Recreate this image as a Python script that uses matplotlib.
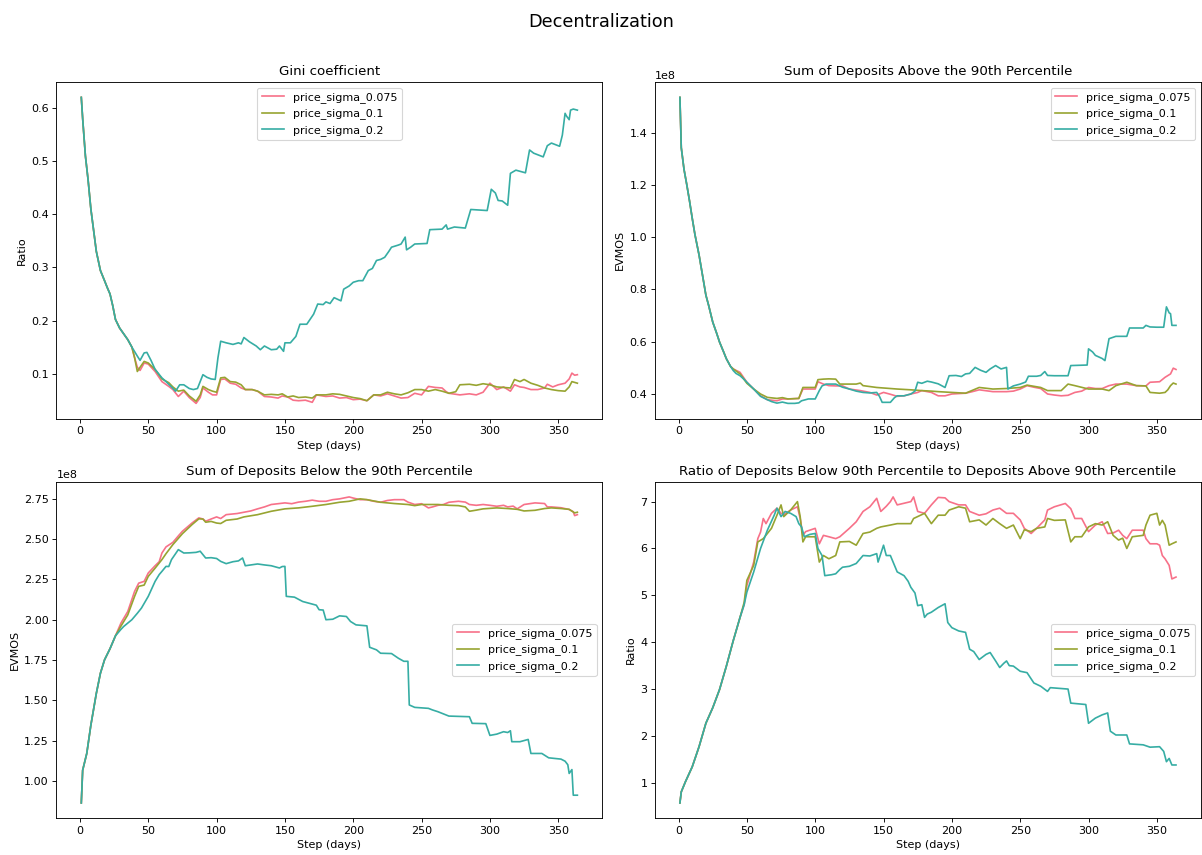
import numpy as np
from matplotlib import pyplot as plt

labels = ["price_sigma_0.075", "price_sigma_0.1", "price_sigma_0.2"]
colors = ["#f77189", "#97a431", "#36ada4"]

# Gini coefficient, (day, value)
gini_start = [(1, 0.62), (2, 0.58), (4, 0.51), (6, 0.464), (8, 0.41), (10, 0.37), (12, 0.33),
              (15, 0.294), (18, 0.275), (20, 0.262), (22, 0.25), (24, 0.228), (26, 0.202),
              (29, 0.186), (32, 0.175), (35, 0.164), (38, 0.15)]
gini_075 = [(40, 0.13), (42, 0.112), (44, 0.106), (47, 0.12), (50, 0.118), (55, 0.104), (60, 0.085),
            (65, 0.076), (68, 0.07), (72, 0.057), (76, 0.067), (80, 0.055), (85, 0.044), (88, 0.055),
            (90, 0.073), (94, 0.065), (97, 0.06), (100, 0.06), (103, 0.089), (106, 0.09), (110, 0.082),
            (114, 0.08), (118, 0.073), (121, 0.07), (126, 0.07), (130, 0.067), (135, 0.057), (140, 0.056),
            (145, 0.054), (148, 0.058), (152, 0.056), (156, 0.05), (160, 0.049), (165, 0.05), (170, 0.046),
            (173, 0.06), (180, 0.057), (185, 0.058), (190, 0.054), (195, 0.055), (200, 0.051), (205, 0.052),
            (210, 0.049), (215, 0.06), (220, 0.058), (225, 0.062), (230, 0.058), (235, 0.054), (240, 0.055),
            (245, 0.063), (250, 0.06), (255, 0.076), (260, 0.074), (265, 0.073), (268, 0.066), (270, 0.063),
            (278, 0.06), (285, 0.062), (290, 0.06), (295, 0.065), (300, 0.082), (303, 0.075), (305, 0.07),
            (310, 0.075), (315, 0.067), (318, 0.079), (322, 0.075), (325, 0.074), (330, 0.07), (335, 0.07),
            (340, 0.073), (342, 0.08), (346, 0.075), (350, 0.079), (355, 0.082), (358, 0.09), (360, 0.101),
            (362, 0.097), (364, 0.098)]
gini_01 = [(40, 0.13), (42, 0.104), (44, 0.112), (47, 0.123), (50, 0.12), (55, 0.108), (60, 0.09),
           (65, 0.083), (68, 0.075), (72, 0.067), (76, 0.069), (80, 0.058), (85, 0.048), (88, 0.06),
           (90, 0.076), (94, 0.07), (97, 0.067), (100, 0.065), (103, 0.092), (106, 0.093), (110, 0.085),
           (114, 0.084), (118, 0.079), (121, 0.07), (126, 0.07), (130, 0.067), (135, 0.06), (140, 0.061),
           (145, 0.06), (148, 0.062), (152, 0.056), (156, 0.058), (160, 0.055), (165, 0.056), (170, 0.054),
           (173, 0.06), (180, 0.06), (185, 0.062), (190, 0.061), (195, 0.058), (200, 0.055), (205, 0.053),
           (210, 0.049), (215, 0.06), (220, 0.06), (225, 0.065), (230, 0.062), (235, 0.06), (240, 0.064),
           (245, 0.07), (250, 0.07), (255, 0.067), (260, 0.07), (265, 0.067), (270, 0.063), (275, 0.066),
           (278, 0.079), (285, 0.08), (290, 0.078), (295, 0.081), (300, 0.079), (305, 0.075), (310, 0.074),
           (315, 0.073), (318, 0.089), (322, 0.085), (325, 0.089), (330, 0.082), (335, 0.078), (340, 0.073),
           (345, 0.07), (350, 0.068), (355, 0.067), (358, 0.075), (360, 0.085), (364, 0.082)]
gini_02 = [(42, 0.133), (44, 0.125), (47, 0.139), (49, 0.14), (52, 0.125), (55, 0.108), (60, 0.092),
           (63, 0.085), (67, 0.075), (70, 0.067), (73, 0.079), (76, 0.079), (80, 0.072), (83, 0.07),
           (86, 0.072), (88, 0.085), (90, 0.098), (93, 0.093), (96, 0.09), (99, 0.089), (101, 0.13),
           (103, 0.161), (107, 0.158), (112, 0.155), (116, 0.158), (118, 0.156), (120, 0.168), (124, 0.16),
           (129, 0.152), (132, 0.145), (135, 0.152), (140, 0.145), (144, 0.146), (146, 0.152), (149, 0.142),
           (150, 0.158), (154, 0.158), (158, 0.17), (161, 0.193), (166, 0.193), (171, 0.212), (174, 0.231),
           (178, 0.23), (180, 0.235), (183, 0.232), (186, 0.243), (191, 0.237), (193, 0.259), (197, 0.265),
           (200, 0.272), (204, 0.275), (207, 0.275), (211, 0.294), (214, 0.298), (217, 0.313), (220, 0.315),
           (223, 0.319), (226, 0.33), (228, 0.338), (233, 0.342), (235, 0.344), (238, 0.357), (239, 0.333),
           (242, 0.338), (245, 0.344), (254, 0.345), (256, 0.371), (265, 0.372), (268, 0.38), (269, 0.372),
           (274, 0.376), (282, 0.374), (286, 0.409), (298, 0.407), (301, 0.447), (304, 0.44), (306, 0.426),
           (309, 0.425), (313, 0.417), (315, 0.477), (319, 0.483), (326, 0.478), (329, 0.521), (332, 0.515),
           (339, 0.508), (342, 0.529), (345, 0.534), (351, 0.528), (353, 0.549), (355, 0.59), (356, 0.585),
           (358, 0.578), (359, 0.596), (361, 0.598), (364, 0.596)]

# Sum of deposits above the 90th percentile, in units of 1e8 EVMOS
above_start = [(1, 1.536), (2, 1.343), (4, 1.26), (6, 1.202), (8, 1.14), (10, 1.073), (12, 1.01),
               (15, 0.932), (18, 0.84), (20, 0.778), (22, 0.739), (25, 0.675), (28, 0.63), (30, 0.598),
               (33, 0.56), (35, 0.534), (38, 0.505)]
above_075 = [(40, 0.495), (45, 0.482), (50, 0.444), (55, 0.418), (60, 0.392), (65, 0.377), (72, 0.373),
             (76, 0.38), (80, 0.38), (88, 0.382), (91, 0.418), (100, 0.418), (102, 0.446), (106, 0.437),
             (110, 0.431), (115, 0.43), (120, 0.43), (125, 0.418), (133, 0.412), (140, 0.405), (145, 0.395),
             (150, 0.405), (155, 0.398), (160, 0.39), (165, 0.392), (170, 0.399), (175, 0.405), (178, 0.412),
             (185, 0.405), (190, 0.392), (195, 0.392), (200, 0.399), (210, 0.402), (215, 0.408), (220, 0.415),
             (230, 0.408), (240, 0.408), (245, 0.41), (250, 0.418), (255, 0.431), (260, 0.425), (265, 0.42),
             (270, 0.399), (275, 0.395), (280, 0.392), (285, 0.394), (290, 0.405), (295, 0.41), (300, 0.424),
             (305, 0.42), (310, 0.42), (315, 0.431), (320, 0.437), (328, 0.437), (335, 0.431), (342, 0.43),
             (345, 0.444), (352, 0.446), (356, 0.463), (360, 0.476), (362, 0.498), (364, 0.493)]
above_01 = [(40, 0.495), (45, 0.476), (50, 0.44), (55, 0.418), (60, 0.399), (65, 0.386), (72, 0.382),
            (76, 0.385), (80, 0.38), (88, 0.382), (91, 0.424), (100, 0.424), (102, 0.454), (106, 0.456),
            (110, 0.457), (115, 0.456), (118, 0.437), (125, 0.437), (130, 0.437), (133, 0.441), (135, 0.431),
            (145, 0.424), (150, 0.422), (160, 0.418), (170, 0.415), (178, 0.412), (185, 0.41), (190, 0.408),
            (200, 0.405), (210, 0.402), (220, 0.424), (230, 0.418), (240, 0.42), (250, 0.424), (255, 0.433),
            (265, 0.424), (270, 0.412), (280, 0.412), (285, 0.437), (290, 0.431), (300, 0.418), (310, 0.418),
            (315, 0.412), (320, 0.431), (328, 0.444), (335, 0.431), (342, 0.43), (345, 0.405), (352, 0.402),
            (356, 0.405), (358, 0.415), (360, 0.431), (362, 0.441), (364, 0.437)]
above_02 = [(40, 0.489), (42, 0.478), (45, 0.469), (48, 0.455), (50, 0.444), (55, 0.418), (60, 0.39),
            (65, 0.377), (68, 0.37), (72, 0.364), (76, 0.368), (80, 0.363), (85, 0.363), (88, 0.365),
            (90, 0.373), (95, 0.38), (100, 0.38), (103, 0.412), (105, 0.43), (108, 0.437), (115, 0.437),
            (120, 0.425), (125, 0.418), (130, 0.41), (135, 0.405), (140, 0.403), (145, 0.405), (147, 0.39),
            (149, 0.367), (155, 0.367), (158, 0.385), (160, 0.392), (165, 0.392), (170, 0.399), (173, 0.41),
            (175, 0.444), (178, 0.44), (182, 0.448), (185, 0.445), (190, 0.438), (195, 0.424), (198, 0.469),
            (203, 0.47), (207, 0.466), (210, 0.476), (213, 0.478), (217, 0.501), (221, 0.49), (225, 0.482),
            (228, 0.495), (232, 0.508), (236, 0.495), (240, 0.501), (241, 0.418), (245, 0.43), (250, 0.437),
            (254, 0.445), (256, 0.467), (262, 0.467), (265, 0.47), (268, 0.485), (270, 0.47), (275, 0.469),
            (285, 0.469), (287, 0.508), (299, 0.51), (300, 0.572), (303, 0.56), (305, 0.547), (310, 0.535),
            (312, 0.527), (315, 0.611), (320, 0.62), (328, 0.62), (330, 0.652), (340, 0.652), (342, 0.662),
            (345, 0.656), (350, 0.655), (355, 0.655), (357, 0.733), (359, 0.71), (360, 0.707), (361, 0.662),
            (364, 0.662)]

# Sum of deposits below the 90th percentile, in units of 1e8 EVMOS
below_start = [(1, 0.863), (2, 1.066), (5, 1.17), (8, 1.346), (12, 1.543), (15, 1.668), (18, 1.751),
               (22, 1.82), (26, 1.9)]
below_075 = [(30, 1.979), (35, 2.051), (40, 2.176), (43, 2.227), (47, 2.238), (50, 2.29), (55, 2.335),
             (58, 2.36), (60, 2.414), (63, 2.452), (68, 2.48), (72, 2.52), (75, 2.549), (82, 2.6),
             (87, 2.632), (90, 2.625), (92, 2.611), (96, 2.625), (100, 2.638), (103, 2.628), (107, 2.652),
             (115, 2.659), (120, 2.667), (125, 2.675), (130, 2.688), (135, 2.7), (140, 2.715), (145, 2.72),
             (150, 2.725), (155, 2.72), (160, 2.73), (165, 2.735), (170, 2.742), (175, 2.735), (180, 2.735),
             (185, 2.745), (190, 2.75), (197, 2.762), (200, 2.755), (205, 2.745), (210, 2.745), (215, 2.735),
             (220, 2.729), (225, 2.74), (230, 2.745), (237, 2.745), (240, 2.73), (245, 2.715), (250, 2.72),
             (255, 2.694), (258, 2.7), (262, 2.71), (266, 2.715), (270, 2.729), (277, 2.735), (282, 2.73),
             (285, 2.715), (290, 2.71), (295, 2.715), (300, 2.71), (305, 2.704), (310, 2.71), (313, 2.7),
             (317, 2.705), (320, 2.688), (325, 2.715), (333, 2.725), (340, 2.721), (342, 2.7), (345, 2.7),
             (352, 2.695), (358, 2.684), (361, 2.67), (362, 2.646), (364, 2.652)]
below_01 = [(30, 1.96), (35, 2.03), (40, 2.145), (43, 2.207), (47, 2.215), (50, 2.269), (55, 2.32),
            (60, 2.373), (63, 2.41), (68, 2.466), (75, 2.534), (82, 2.59), (87, 2.626), (90, 2.625),
            (92, 2.605), (96, 2.61), (100, 2.6), (103, 2.597), (107, 2.617), (115, 2.625), (120, 2.638),
            (125, 2.645), (130, 2.652), (140, 2.673), (150, 2.688), (160, 2.694), (170, 2.704), (180, 2.715),
            (190, 2.729), (197, 2.735), (205, 2.75), (210, 2.745), (220, 2.729), (230, 2.721), (240, 2.715),
            (245, 2.708), (250, 2.715), (255, 2.715), (262, 2.715), (270, 2.71), (277, 2.708), (282, 2.7),
            (285, 2.673), (290, 2.68), (295, 2.688), (305, 2.694), (313, 2.69), (320, 2.685), (325, 2.675),
            (333, 2.679), (340, 2.69), (345, 2.694), (352, 2.69), (358, 2.685), (362, 2.663), (364, 2.667)]
below_02 = [(30, 1.94), (32, 1.958), (38, 2.0), (42, 2.04), (45, 2.072), (50, 2.145), (55, 2.238),
            (58, 2.28), (60, 2.3), (63, 2.331), (65, 2.33), (67, 2.373), (70, 2.41), (72, 2.435), (76, 2.414),
            (80, 2.415), (85, 2.418), (88, 2.425), (92, 2.383), (96, 2.385), (100, 2.38), (103, 2.362),
            (107, 2.348), (112, 2.36), (116, 2.365), (119, 2.383), (121, 2.335), (130, 2.346), (135, 2.34),
            (140, 2.335), (146, 2.321), (148, 2.33), (150, 2.331), (151, 2.145), (157, 2.14), (163, 2.113),
            (170, 2.097), (173, 2.09), (175, 2.062), (178, 2.06), (180, 2.0), (185, 2.003), (190, 2.024),
            (195, 2.02), (198, 1.989), (202, 1.968), (210, 1.962), (212, 1.829), (217, 1.813), (220, 1.792),
            (228, 1.79), (233, 1.761), (237, 1.742), (240, 1.742), (241, 1.471), (245, 1.456), (255, 1.45),
            (258, 1.44), (262, 1.429), (270, 1.402), (285, 1.398), (287, 1.357), (297, 1.355), (300, 1.282),
            (305, 1.29), (310, 1.305), (313, 1.3), (315, 1.311), (316, 1.243), (322, 1.243), (328, 1.257),
            (330, 1.17), (338, 1.17), (343, 1.143), (352, 1.135), (355, 1.122), (357, 1.1), (358, 1.046),
            (360, 1.07), (361, 0.911), (364, 0.911)]

# Ratio below / above the 90th percentile
ratio_start = [(1, 0.57), (2, 0.807), (5, 1.02), (10, 1.34), (15, 1.77), (20, 2.27), (25, 2.6),
               (30, 2.99), (35, 3.49), (40, 4.03), (45, 4.53)]
ratio_075 = [(48, 4.8), (50, 5.21), (55, 5.71), (58, 6.21), (60, 6.35), (62, 6.64), (64, 6.53), (68, 6.75),
             (72, 6.86), (75, 6.75), (77, 6.72), (82, 6.82), (87, 6.89), (89, 6.64), (91, 6.28), (93, 6.36),
             (100, 6.43), (103, 6.1), (106, 6.28), (110, 6.25), (115, 6.21), (118, 6.25), (125, 6.43),
             (130, 6.57), (135, 6.79), (140, 6.89), (145, 7.07), (148, 6.79), (152, 6.9), (155, 7.0),
             (157, 7.1), (160, 6.93), (170, 7.0), (172, 7.1), (175, 6.79), (180, 6.75), (185, 6.93),
             (190, 7.09), (195, 7.08), (198, 7.0), (205, 6.93), (210, 6.93), (213, 6.79), (220, 6.71),
             (225, 6.74), (230, 6.82), (235, 6.86), (240, 6.75), (245, 6.75), (250, 6.61), (253, 6.43),
             (258, 6.32), (262, 6.43), (268, 6.61), (270, 6.82), (275, 6.89), (283, 6.96), (287, 6.85),
             (290, 6.64), (295, 6.64), (300, 6.36), (305, 6.5), (310, 6.57), (314, 6.32), (318, 6.33),
             (322, 6.39), (325, 6.28), (328, 6.21), (332, 6.39), (340, 6.39), (342, 6.21), (345, 6.1),
             (350, 6.1), (352, 6.07), (354, 5.85), (356, 5.78), (359, 5.64), (361, 5.35), (364, 5.39)]
ratio_01 = [(48, 4.85), (50, 5.32), (55, 5.64), (58, 6.14), (62, 6.21), (68, 6.43), (72, 6.71), (75, 6.93),
            (77, 6.68), (82, 6.82), (87, 7.0), (89, 6.68), (91, 6.14), (93, 6.25), (100, 6.25), (103, 5.71),
            (106, 5.85), (110, 5.78), (115, 5.85), (118, 6.14), (125, 6.15), (130, 6.07), (135, 6.32),
            (140, 6.35), (145, 6.43), (148, 6.46), (155, 6.5), (160, 6.53), (170, 6.53), (172, 6.64),
            (180, 6.75), (185, 6.53), (190, 6.71), (195, 6.71), (198, 6.82), (205, 6.89), (210, 6.86),
            (213, 6.57), (220, 6.61), (225, 6.5), (230, 6.64), (235, 6.53), (240, 6.43), (245, 6.5),
            (250, 6.21), (253, 6.4), (258, 6.36), (262, 6.43), (268, 6.46), (270, 6.64), (275, 6.6),
            (283, 6.61), (287, 6.14), (290, 6.25), (295, 6.25), (300, 6.46), (305, 6.53), (310, 6.5),
            (314, 6.57), (318, 6.28), (322, 6.18), (325, 6.22), (328, 6.0), (332, 6.25), (340, 6.28),
            (342, 6.5), (345, 6.71), (350, 6.75), (352, 6.5), (354, 6.6), (356, 6.5), (359, 6.07),
            (361, 6.1), (364, 6.14)]
ratio_02 = [(48, 4.8), (50, 5.07), (55, 5.5), (60, 6.0), (65, 6.39), (70, 6.71), (72, 6.86), (75, 6.68),
            (78, 6.79), (82, 6.75), (86, 6.68), (88, 6.53), (90, 6.46), (92, 6.25), (96, 6.3), (100, 6.32),
            (102, 6.0), (105, 5.85), (107, 5.42), (112, 5.44), (115, 5.46), (118, 5.55), (120, 5.6),
            (125, 5.62), (130, 5.68), (135, 5.85), (140, 5.84), (145, 5.89), (146, 5.71), (150, 6.07),
            (152, 5.85), (155, 5.85), (160, 5.5), (165, 5.42), (168, 5.3), (170, 5.17), (173, 5.05),
            (175, 4.78), (178, 4.8), (180, 4.53), (182, 4.6), (185, 4.64), (190, 4.74), (195, 4.82),
            (197, 4.42), (200, 4.31), (205, 4.24), (210, 4.21), (213, 3.85), (216, 3.8), (220, 3.63),
            (225, 3.74), (228, 3.78), (232, 3.6), (235, 3.46), (238, 3.55), (240, 3.6), (242, 3.5),
            (245, 3.49), (250, 3.38), (255, 3.35), (260, 3.13), (265, 3.06), (270, 2.95), (272, 3.03),
            (285, 3.0), (287, 2.7), (298, 2.67), (300, 2.27), (305, 2.38), (310, 2.45), (314, 2.49),
            (316, 2.1), (320, 2.02), (328, 2.02), (330, 1.83), (340, 1.81), (345, 1.76), (352, 1.77),
            (355, 1.67), (357, 1.45), (359, 1.52), (361, 1.38), (364, 1.38)]


def draw(ax, start, series, scale, title, ylabel, legend_loc):
    for pts, label, color in zip(series, labels, colors):
        arr = np.array(start + pts)
        ax.plot(arr[:, 0], arr[:, 1] * scale, color=color, label=label, linewidth=1.5)
    ax.set_title(title)
    ax.set_xlabel("Step (days)")
    ax.set_ylabel(ylabel)
    ax.legend(loc=legend_loc)


fig, axes = plt.subplots(2, 2, figsize=(1202 / 80, 855 / 80), dpi=80)
fig.subplots_adjust(left=0.047, right=0.999, top=0.904, bottom=0.043, wspace=0.097, hspace=0.187)
fig.suptitle("Decentralization", fontsize=16, y=0.985)

draw(axes[0, 0], gini_start, [gini_075, gini_01, gini_02], 1,
     "Gini coefficient", "Ratio", "upper center")
draw(axes[0, 1], above_start, [above_075, above_01, above_02], 1e8,
     "Sum of Deposits Above the 90th Percentile", "EVMOS", "upper right")
draw(axes[1, 0], below_start, [below_075, below_01, below_02], 1e8,
     "Sum of Deposits Below the 90th Percentile", "EVMOS", "center right")
draw(axes[1, 1], ratio_start, [ratio_075, ratio_01, ratio_02], 1,
     "Ratio of Deposits Below 90th Percentile to Deposits Above 90th Percentile", "Ratio", "center right")

plt.savefig("out.png", dpi=80)
